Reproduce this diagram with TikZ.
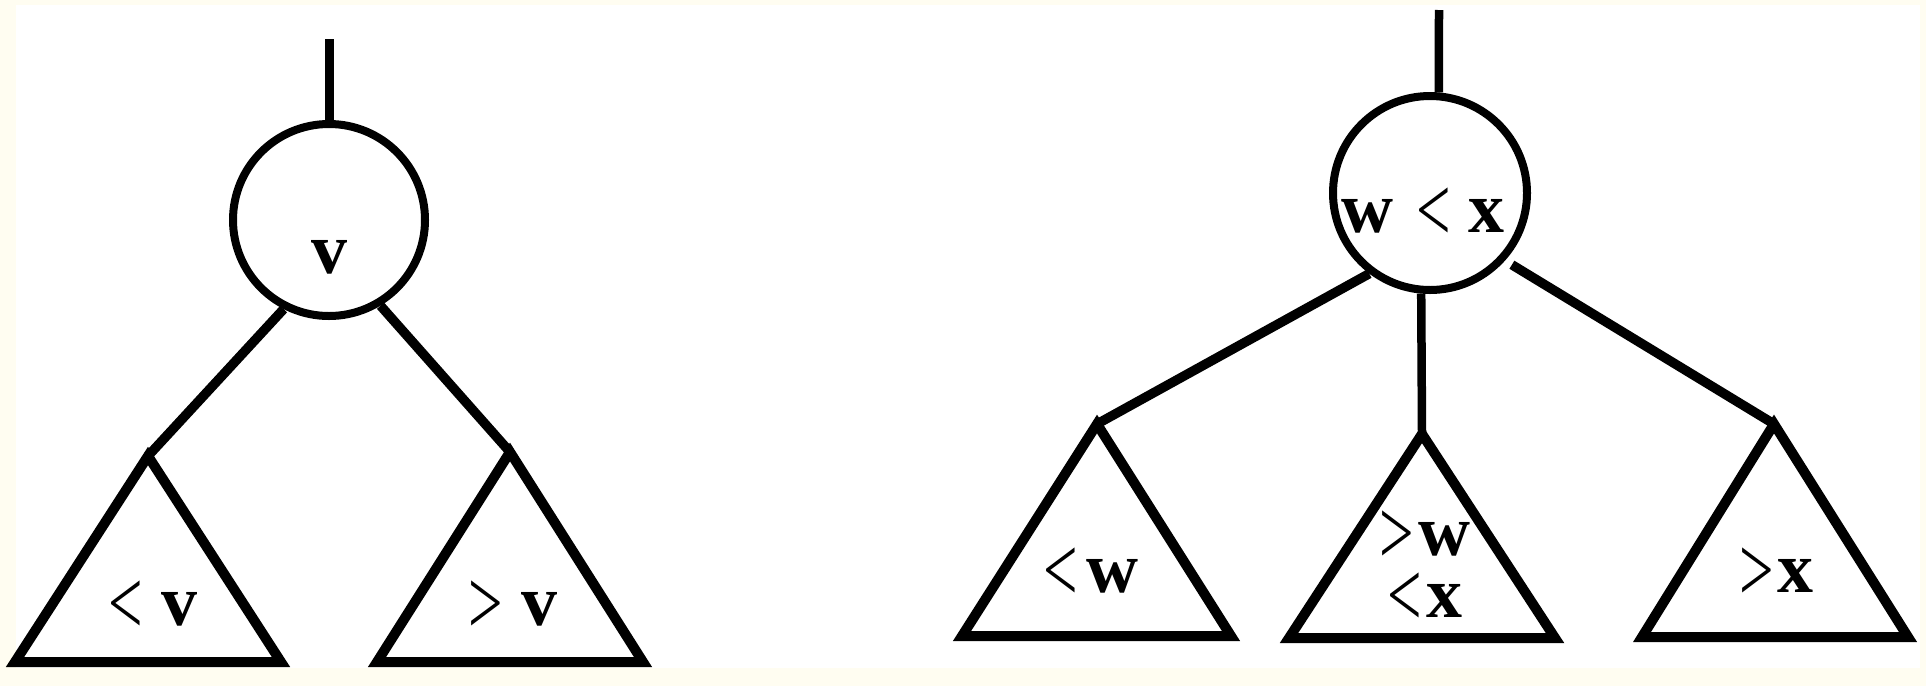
\documentclass[tikz,border=0pt]{standalone}
\usepackage{fontspec}
\setmainfont{Liberation Serif}
\usepackage{graphicx}
\definecolor{cream}{RGB}{255,253,241}
\newcommand\lsym{\raisebox{-9pt}{\scalebox{0.85}[1.3]{<}}}
\newcommand\gsym{\raisebox{-9pt}{\scalebox{0.85}[1.3]{>}}}
\begin{document}
\begin{tikzpicture}[x=1pt,y=-1pt,
  treeline/.style={line width=9.5pt, line cap=butt},
  nodecircle/.style={circle, draw, line width=8pt, minimum size=192pt, inner sep=0pt},
  lbl/.style={anchor=base, inner sep=0pt, text height=36pt, text depth=0pt, font=\fontsize{72}{72}\selectfont},
  subtree/.style={line width=10pt, line join=miter, miter limit=10},
]
\fill[cream] (0,0) rectangle (1926,686);
\fill[white] (16,5) rectangle (1920,668);
\useasboundingbox (0,0) rectangle (1926,686);

% ---------- left tree ----------
\coordinate (ltop) at (329,39);
\node[nodecircle] (lroot) at (329,220) {};
\node[lbl] (lv) at (329,273) {\textbf{v}};
\draw[treeline, line width=9pt] (ltop) -- (lroot.north);

\coordinate (la) at (148,456);
\coordinate (lb) at (510,452);
\draw[subtree] (la) -- (15,662) -- (281,662) -- cycle;
\draw[subtree] (lb) -- (377,662) -- (643,662) -- cycle;
\draw[treeline] (lroot.243) -- (la);
\draw[treeline] (lroot.301) -- (lb);
\node[lbl] (llt) at (153,625) {\lsym\hspace{19pt}\textbf{v}};
\node[lbl] (lgt) at (513,625) {\gsym\hspace{19pt}\textbf{v}};

% ---------- right tree ----------
\coordinate (rtop) at (1439,10);
\node[nodecircle, minimum size=194pt] (rroot) at (1430,193) {};
\node[lbl] (rwx) at (1423,232) {\textbf{w}\hspace{23pt}\lsym\hspace{18pt}\textbf{x}};
\draw[treeline, line width=8.5pt] (rtop) -- (rroot.85);

\coordinate (ra) at (1097,424);
\coordinate (rb) at (1422,434);
\coordinate (rc) at (1774,424);
\draw[subtree] (ra) -- (962,636) -- (1231,636) -- cycle;
\draw[subtree] (rb) -- (1289,638) -- (1555,638) -- cycle;
\draw[subtree] (rc) -- (1642,637) -- (1908,637) -- cycle;
\draw[treeline] (rroot.233) -- (ra);
\draw[treeline, line width=8.5pt] (rroot.265) -- (rb);
\draw[treeline, shorten <=8pt] (rroot.318) -- (rc);

\node[lbl] (rlw) at (1091,592) {\lsym\hspace{8pt}\textbf{w}};
\node[anchor=base, inner sep=0pt, font=\fontsize{72}{55}\selectfont] (rmid) at (1425,617)
  {\begin{tabular}[b]{@{}c@{}}\gsym\hspace{4pt}\textbf{w}\\ \lsym\hspace{4pt}\textbf{x}\end{tabular}};
\node[lbl] (rgx) at (1776.5,592) {\gsym\hspace{4pt}\textbf{x}};
\end{tikzpicture}
\end{document}
